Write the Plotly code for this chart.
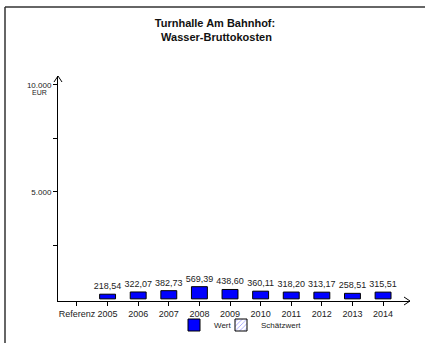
import plotly.graph_objects as go

# chart data
categories = ["Referenz", "2005", "2006", "2007", "2008", "2009",
              "2010", "2011", "2012", "2013", "2014"]
wert = [None, 218.54, 322.07, 382.73, 569.39, 438.60,
        360.11, 318.20, 313.17, 258.51, 315.51]
schaetzwert = [None] * len(categories)
y_tickvals = [2500, 5000, 7500, 10000]
y_ticktext = ["", "5.000", "", "10.000"]


def de_fmt(v):
    if v is None:
        return ""
    return f"{v:.2f}".replace(".", ",")


FONT = "Liberation Sans, Arial, sans-serif"

# plot area in pixels (for the frame and arrow decorations)
L, R, T, B = 58, 410, 76, 301
W, H = 425, 343


def px(x):
    return (x - L) / (R - L)


def py(y):
    return (B - y) / (B - T)


fig = go.Figure()

fig.add_trace(go.Bar(
    x=categories, y=wert, name="Wert",
    text=[de_fmt(v) for v in wert], textposition="outside",
    constraintext="none",
    textfont=dict(size=9, color="#222"), cliponaxis=False,
    marker=dict(color="#0000ff", line=dict(color="#000", width=1)),
    width=0.52, legend="legend",
))
fig.add_trace(go.Bar(
    x=categories, y=schaetzwert, name="Schätzwert",
    marker=dict(color="white", line=dict(color="#000", width=1),
                pattern=dict(shape="/", fgcolor="#0000ff", size=4)),
    width=0.52, legend="legend2",
))

line = dict(color="#000", width=1)
shapes = [
    # outer frame (top and left)
    dict(type="line", xref="paper", yref="paper", x0=px(5), x1=px(430),
         y0=py(7), y1=py(7), line=dict(color="#333", width=1.5)),
    dict(type="line", xref="paper", yref="paper", x0=px(5), x1=px(5),
         y0=py(7), y1=py(350), line=dict(color="#333", width=1.5)),
    # y arrow
    dict(type="line", xref="paper", yref="paper", x0=px(54), x1=px(58),
         y0=py(82), y1=py(76), line=line),
    dict(type="line", xref="paper", yref="paper", x0=px(62), x1=px(58),
         y0=py(82), y1=py(76), line=line),
    # x arrow
    dict(type="line", xref="paper", yref="paper", x0=px(404), x1=px(410),
         y0=py(297), y1=py(301), line=line),
    dict(type="line", xref="paper", yref="paper", x0=px(404), x1=px(410),
         y0=py(305), y1=py(301), line=line),
]

legend_style = dict(orientation="h", xanchor="left", yanchor="middle",
                    font=dict(size=8), itemwidth=30,
                    bgcolor="rgba(0,0,0,0)")

fig.update_layout(
    width=W, height=H,
    margin=dict(l=L, r=W - R, t=T, b=H - B, autoexpand=False),
    paper_bgcolor="white", plot_bgcolor="white",
    font=dict(family=FONT, size=9, color="#222"),
    barmode="overlay",
    title=dict(text="<b>Turnhalle Am Bahnhof:<br> Wasser-Bruttokosten</b>",
               x=215 / W, xanchor="center", xref="container",
               y=1 - 27 / H, yanchor="top", yref="container",
               font=dict(size=11, color="#111")),
    xaxis=dict(range=[-0.62, 10.88], showline=True, linecolor="#000",
               linewidth=1, ticks="outside", ticklen=4, tickcolor="#000",
               showgrid=False, zeroline=False, automargin=False,
               tickfont=dict(size=9)),
    yaxis=dict(range=[-100, 10420], showline=True, linecolor="#000",
               linewidth=1, ticks="outside", ticklen=4, tickcolor="#000",
               tickvals=y_tickvals, ticktext=y_ticktext, automargin=False,
               showgrid=False, zeroline=False, tickfont=dict(size=8)),
    yaxis2=dict(range=[-100, 10420], overlaying="y", side="left",
                ticks="inside", ticklen=4, tickcolor="#000",
                tickvals=y_tickvals, showticklabels=False, automargin=False,
                showgrid=False, zeroline=False, showline=False),
    legend=dict(legend_style, x=px(174), y=py(325)),
    legend2=dict(legend_style, x=px(221), y=py(325)),
    showlegend=True,
    shapes=shapes,
    annotations=[dict(text="EUR", xref="paper", yref="paper",
                      x=px(39), y=py(92), xanchor="center",
                      yanchor="middle", showarrow=False,
                      font=dict(size=7))],
)

# page has a default 8px body margin; drop it so the figure sits at 0,0
fig.write_html("out.html", config={"displayModeBar": False},
               post_script="document.body.style.margin='0';"
                           "document.body.style.overflow='hidden';")
